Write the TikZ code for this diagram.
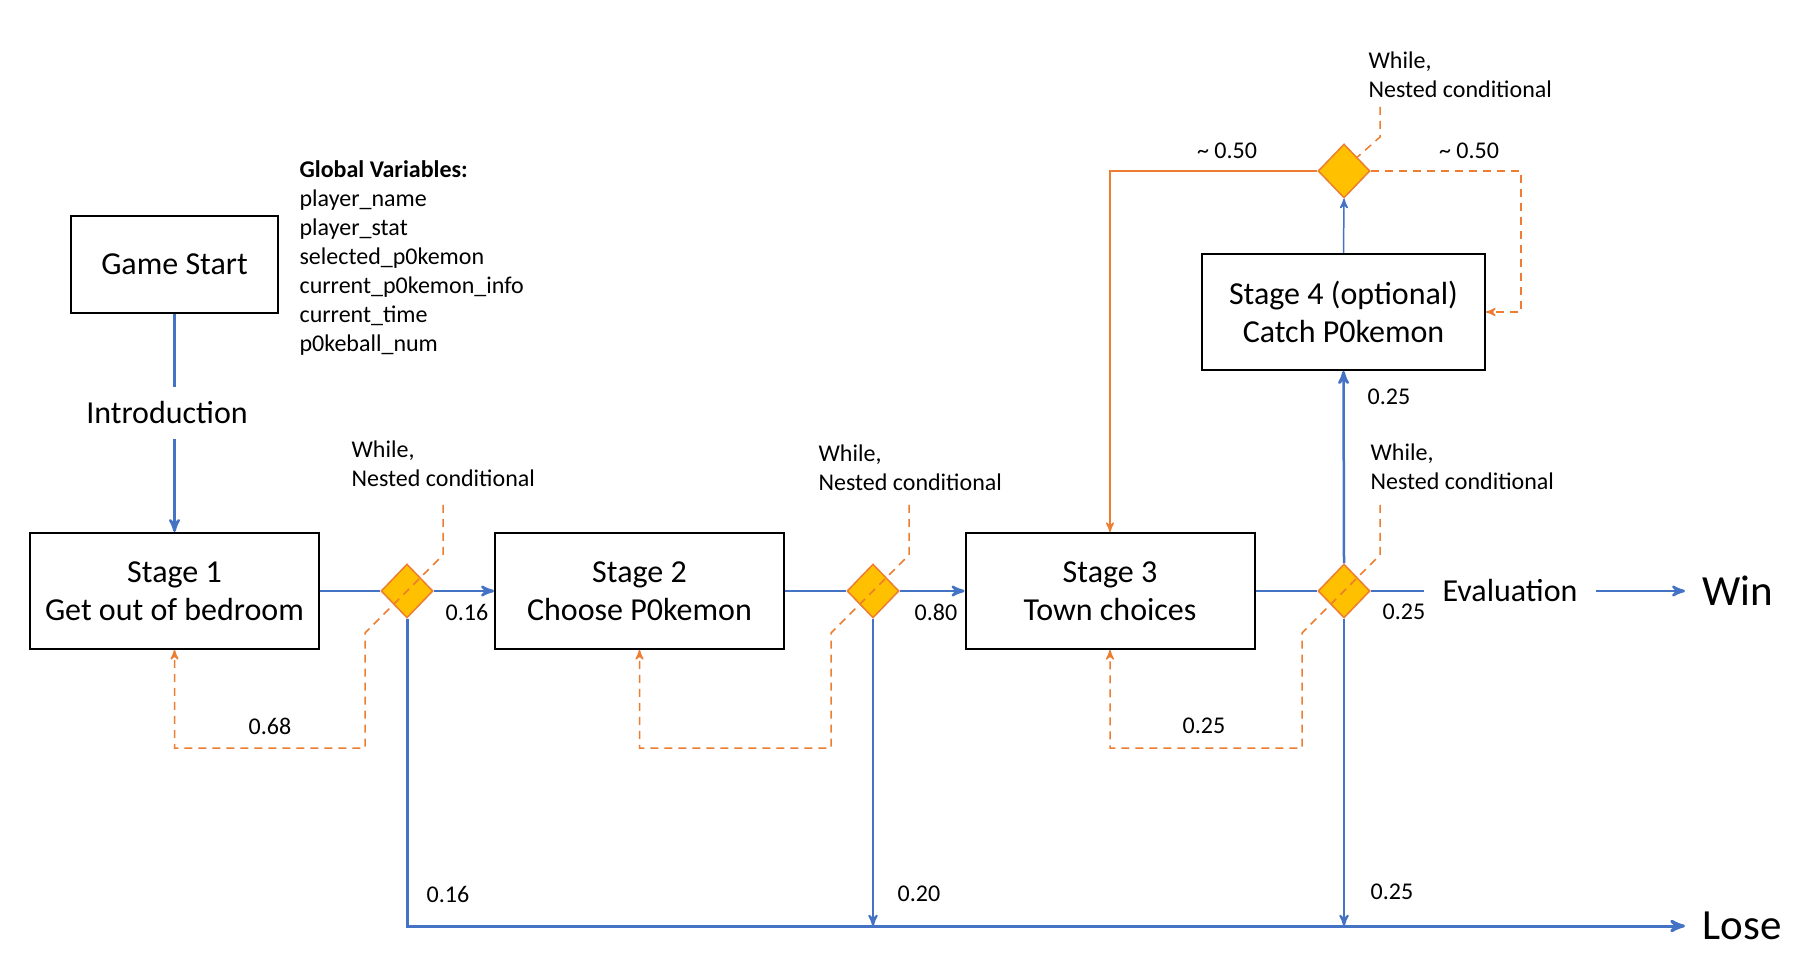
\documentclass[tikz,border=0pt]{standalone}
\usepackage{fontspec}
\setmainfont{Carlito}
\usetikzlibrary{shapes,calc,positioning,arrows}

\definecolor{flowblue}{HTML}{4472C4}
\definecolor{floworange}{HTML}{ED7D31}
\definecolor{flowgold}{HTML}{FFC000}

\newcommand{\boxfont}{\fontsize{16}{19}\selectfont}
\newcommand{\notefont}{\fontsize{12}{14.5}\selectfont}
\newcommand{\resultfont}{\fontsize{21.5}{26}\selectfont}

\begin{document}
\begin{tikzpicture}[x=0.5pt, y=-0.5pt, >=stealth', semithick,
   stagebox/.style={rectangle, draw, line width=1pt, align=center, font=\boxfont,
      minimum width=144.5pt, minimum height=58pt, inner sep=0pt},
   choice/.style={diamond, aspect=1, draw=floworange, fill=flowgold, line width=0.75pt,
      minimum width=26pt, minimum height=27pt, inner sep=0pt},
   flow/.style={draw=flowblue, line width=1.25pt},
   thinflow/.style={draw=flowblue, line width=0.75pt},
   back/.style={draw=floworange, line width=0.75pt, dash pattern=on 4pt off 3pt},
   prob/.style={font=\notefont, inner sep=0pt},
   note/.style={font=\notefont, align=left, anchor=north west, inner sep=0pt}]

  \useasboundingbox (0,0) rectangle (1804,972);

  % boxes and decisions
  \node [stagebox, minimum width=103.5pt, minimum height=48.5pt] (start) at (174.5,264.5) {Game Start};
  \node [note] (globals) at (299,160) {\textbf{Global Variables:}\\player\_name\\player\_stat\\selected\_p0kemon\\current\_p0kemon\_info\\current\_time\\p0keball\_num};
  \node [font=\boxfont, inner sep=7pt] (intro) at (167,413) {Introduction};
  \node [stagebox] (stage1) at (174.5,591) {Stage 1\\Get out of bedroom};
  \node [choice] (d1) at (407,591) {};
  \node [stagebox] (stage2) at (639.5,591) {Stage 2\\Choose P0kemon};
  \node [choice] (d2) at (873,591) {};
  \node [stagebox] (stage3) at (1110,591) {Stage 3\\Town choices};
  \node [choice] (d3) at (1344,591) {};
  \node [stagebox, minimum width=141.5pt] (stage4) at (1343.5,312) {Stage 4 (optional)\\Catch P0kemon};
  \node [choice] (d4) at (1344,171) {};
  \node [font=\boxfont, inner xsep=9pt] (eval) at (1510,591) {Evaluation};
  \node [font=\resultfont, anchor=west, inner xsep=8.5pt, inner ysep=0pt] (win) at (1685,591) {Win};
  \node [font=\resultfont, anchor=west, inner xsep=8.5pt, inner ysep=0pt] (lose) at (1685,926) {Lose};

  % notes
  \node [note] (n1) at (351,440) {While,\\Nested conditional};
  \node [note] (n2) at (818,444) {While,\\Nested conditional};
  \node [note] (n3) at (1370,443) {While,\\Nested conditional};
  \node [note] (n4) at (1368,51) {While,\\Nested conditional};

  % probabilities
  \node [prob] (p1) at (467,612) {0.16};
  \node [prob] (p2) at (936,612) {0.80};
  \node [prob] (p3) at (1404,612) {0.25};
  \node [prob] (p4) at (1389,397) {0.25};
  \node [prob] (q1) at (448,894) {0.16};
  \node [prob] (q2) at (919,894) {0.20};
  \node [prob] (q3) at (1392,892) {0.25};
  \node [prob] (r1) at (270,726) {0.68};
  \node [prob] (r3) at (1204,726) {0.25};
  \node [prob] (h1) at (1227,151) {\textasciitilde\ 0.50};
  \node [prob] (h2) at (1469,151) {\textasciitilde\ 0.50};

  % main flow
  \draw [flow] (start.south) -- (start.south |- intro.north);
  \draw [flow,->] (start.south |- intro.south) -- (stage1.north);
  \draw [flow] (stage1.east) -- (d1.west);
  \draw [flow,->] (d1.east) -- (stage2.west);
  \draw [flow] (stage2.east) -- (d2.west);
  \draw [flow,->] (d2.east) -- (stage3.west);
  \draw [flow] (stage3.east) -- (d3.west);
  \draw [flow] (d3.east) -- (eval.west);
  \draw [flow,->] (eval.east) -- (win.west);
  \draw [flow,->] (d3.north) -- (stage4.south);
  \draw [thinflow,->] (stage4.north) -- (d4.south);

  % to lose
  \draw [flow,->,line width=1.5pt] (d1.south) |- (lose.west);
  \draw [flow,->,line width=1pt] (d2.south) -- (d2 |- lose.west);
  \draw [flow,->,line width=1pt] (d3.south) -- (d3 |- lose.west);

  % stage 4 choice
  \coordinate (turn4) at (1521,171);
  \draw [draw=floworange, line width=0.75pt, ->] (d4.west) -| (stage3.north);
  \draw [back,->] (d4.east) -- (turn4) |- (stage4.east);

  % loops back
  \coordinate (w1) at ($(d1)+(36,-86)$);
  \coordinate (w2) at ($(d2)+(36,-86)$);
  \coordinate (w3) at ($(d3)+(36,-86)$);
  \coordinate (w4) at ($(d4)+(36,-64)$);
  \draw [back,->] (w1) -- ++(0,50) -- ++(-78,78) -- ++(0,115) -| (stage1.south);
  \draw [back,->] (w2) -- ++(0,50) -- ++(-78,78) -- ++(0,115) -| (stage2.south);
  \draw [back,->] (w3) -- ++(0,50) -- ++(-78,78) -- ++(0,115) -| (stage3.south);
  \draw [back] (w4) -- ++(0,30) -- (d4.north east);
\end{tikzpicture}
\end{document}
